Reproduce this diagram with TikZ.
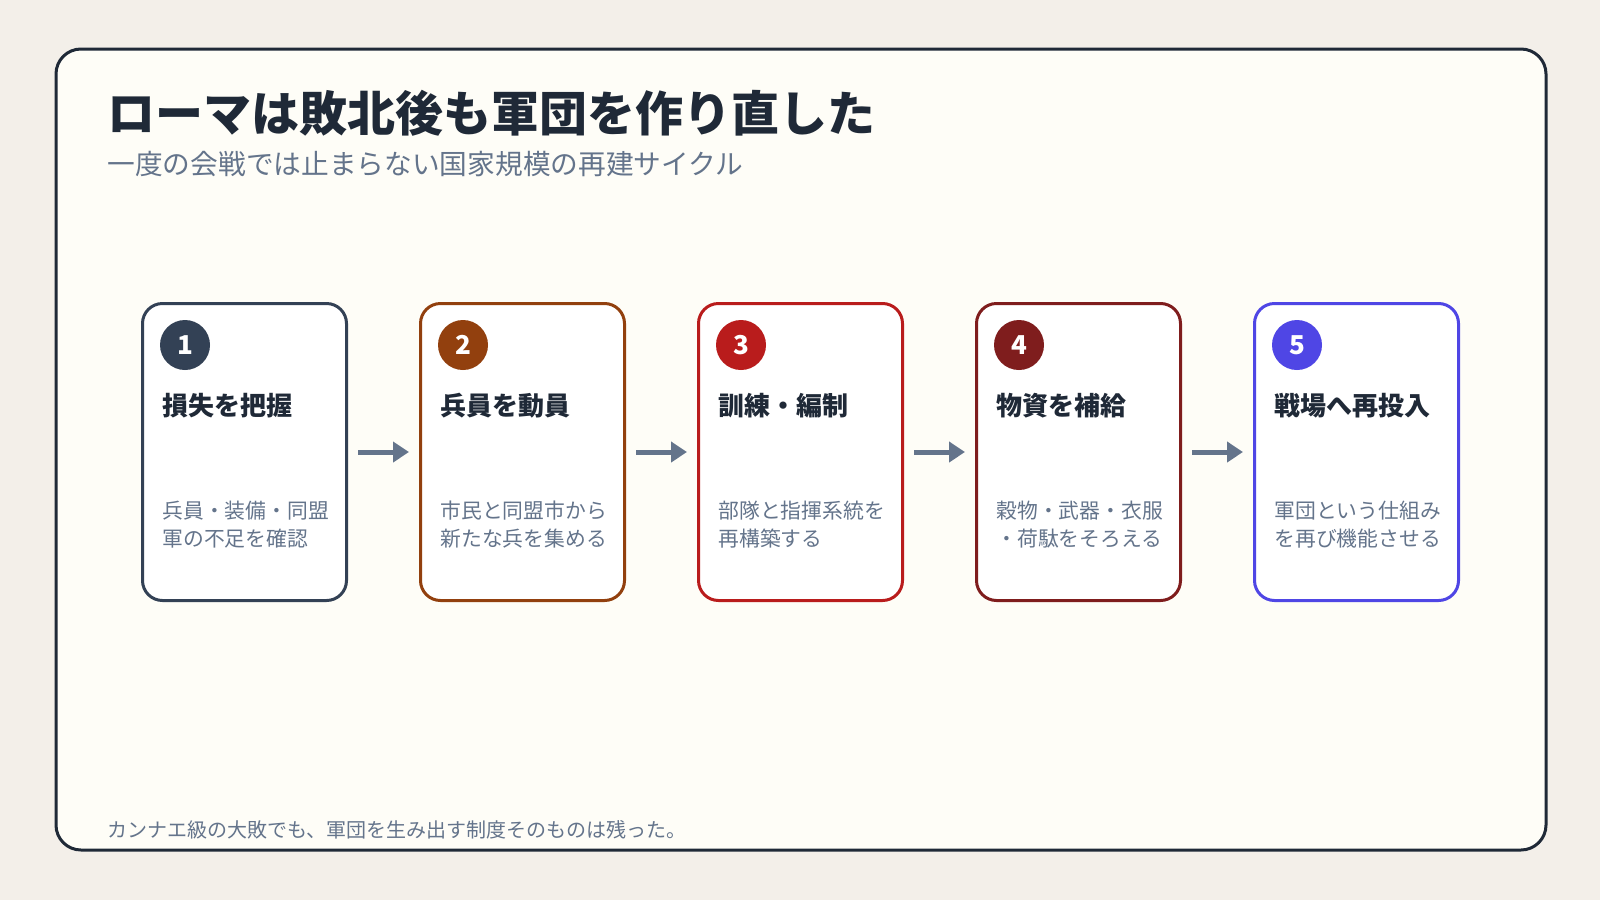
\documentclass[tikz,border=0pt]{standalone}
\usepackage{fontspec}
\setmainfont{Noto Sans CJK JP}
\usetikzlibrary{arrows.meta, positioning}
\definecolor{pagebg}{HTML}{F3EFE9}
\definecolor{cardbg}{HTML}{FEFDF7}
\definecolor{ink}{HTML}{1F2937}
\definecolor{muted}{HTML}{64748B}
\definecolor{stepa}{HTML}{334155}
\definecolor{stepb}{HTML}{92400E}
\definecolor{stepc}{HTML}{B91C1C}
\definecolor{stepd}{HTML}{7F1D1D}
\definecolor{stepe}{HTML}{4F46E5}
\tikzset{stepbox/.style={rectangle, rounded corners=20pt, draw=#1, line width=3pt, fill=white, minimum width=204pt, minimum height=297pt},
stepnum/.style={circle, fill=#1, text=white, minimum size=50pt, inner sep=0pt, font=\fontsize{26}{26}\selectfont\bfseries}}
\begin{document}
\begin{tikzpicture}[
        x=1pt, y=-1pt,
        steptitle/.style={anchor=base west, text=ink, font=\fontsize{26}{26}\selectfont\bfseries},
        stepdesc/.style={anchor=base west, text=muted, align=left, font=\fontsize{20.8}{28}\selectfont},
        flow/.style={draw=muted, line width=5pt, -{Triangle[length=16pt, width=20pt]}}
    ]
        % Background
        \useasboundingbox[fill=pagebg] (0, 0) rectangle (1600, 900);
        \draw[fill=cardbg, draw=ink, line width=3pt, rounded corners=25pt] (56, 49) rectangle (1546, 850);
        % Heading
        \node[anchor=base west, text=ink, font=\fontsize{48}{48}\selectfont\bfseries] (title) at (104, 131) {ローマは敗北後も軍団を作り直した};
        \node[anchor=base west, text=muted, font=\fontsize{27.7}{28}\selectfont] (subtitle) at (104, 174) {一度の会戦では止まらない国家規模の再建サイクル};
        % Steps
        \foreach \i/\col/\ttl/\desc in {
            1/stepa/損失を把握/{兵員・装備・同盟\\軍の不足を確認},
            2/stepb/兵員を動員/{市民と同盟市から\\新たな兵を集める},
            3/stepc/訓練・編制/{部隊と指揮系統を\\再構築する},
            4/stepd/物資を補給/{穀物・武器・衣服\\・荷駄をそろえる},
            5/stepe/戦場へ再投入/{軍団という仕組み\\を再び機能させる}} {
            \pgfmathsetmacro{\bx}{141 + (\i - 1) * 278}
            \node[stepbox=\col, anchor=north west] (box\i) at (\bx, 302) {};
            \node[stepnum=\col] (num\i) at (\bx + 44, 345) {\i};
            \node[steptitle] (ttl\i) at (\bx + 18, 415) {\ttl};
            \node[stepdesc] (desc\i) at (\bx + 18, 519+27) {\desc};
        }
        % Arrows
        \foreach \i [evaluate=\i as \j using int(\i+1)] in {1,...,4} {
            \draw[flow] ([xshift=10pt]box\i.east) -- ([xshift=-10pt]box\j.west);
        }
        % Footer
        \node[anchor=base west, text=muted, font=\fontsize{20}{20}\selectfont] (footer) at (104, 837) {カンナエ級の大敗でも、軍団を生み出す制度そのものは残った。};
    \end{tikzpicture}
\end{document}
